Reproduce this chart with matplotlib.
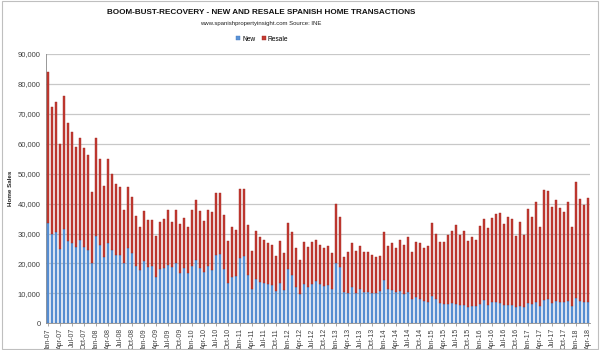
"""Boom-bust-recovery: new vs resale Spanish home transactions, stacked monthly bars."""
import matplotlib
matplotlib.use("Agg")
import matplotlib.pyplot as plt
import numpy as np
from matplotlib.patches import Rectangle
from matplotlib.ticker import FuncFormatter

# ---------- data (monthly Jan-07 .. Apr-18) ----------
MONTHS = ["Jan", "Feb", "Mar", "Apr", "May", "Jun",
          "Jul", "Aug", "Sep", "Oct", "Nov", "Dec"]
labels = [f"{m}-{y % 100:02d}" for y in range(2007, 2019) for m in MONTHS][:136]

total = [
    83900, 72400, 74100, 59900, 75900, 66800, 63900, 59000, 61800, 58700, 56200, 43800,
    61800, 54800, 45900, 54800, 49800, 46500, 45500, 37900, 45500, 42100, 35900, 32300,
    37400, 34500, 34500, 29300, 33900, 35000, 37800, 33900, 37800, 33200, 35100, 32100,
    37800, 41300, 37600, 34300, 37800, 37100, 43600, 43600, 36100, 27400, 32100, 31100,
    44900, 45000, 33000, 24100, 30800, 28800, 28000, 27000, 26100, 22400, 27400, 23400,
    33600, 30400, 25300, 21300, 27300, 25400, 27200, 27900, 26100, 25300, 26000, 23600,
    40000, 35600, 22000, 23900, 26800, 24100, 25800, 23900, 23900, 22800, 22200, 22600,
    30600, 25700, 26800, 25000, 27900, 26100, 28800, 23700, 27100, 26700, 25300, 25900,
    33400, 29900, 27300, 27300, 29400, 30700, 32800, 29400, 30800, 27400, 28800, 27700,
    32400, 34800, 31900, 35200, 36600, 36900, 33100, 35400, 34900, 29300, 33800, 29600,
    38300, 35600, 40400, 32200, 44700, 44100, 38800, 41300, 38600, 37200, 40700, 32200,
    47300, 41400, 39700, 42000,
]
new = [
    33600, 30000, 30600, 24700, 31500, 27500, 26900, 25600, 27800, 25600, 24500, 20300,
    29200, 26200, 22300, 26900, 24500, 22800, 22900, 20000, 25300, 23600, 19200, 17800,
    20700, 18900, 19300, 15600, 18000, 18600, 19500, 18700, 20300, 16700, 18400, 16700,
    19100, 21300, 18600, 17100, 19000, 17800, 22700, 23100, 18200, 13400, 15600, 15800,
    21800, 22400, 16100, 11400, 14800, 13900, 13300, 13100, 12800, 10900, 13400, 11000,
    18000, 16100, 12200, 9900, 13100, 12200, 13000, 14100, 13000, 12400, 12800, 11300,
    20100, 18700, 10400, 10000, 12000, 10100, 11400, 10600, 10600, 10000, 10000, 10900,
    14400, 11300, 11100, 10600, 10700, 9800, 10400, 8200, 8800, 8000, 7400, 7200,
    9100, 8000, 6700, 6300, 6300, 6700, 6300, 6000, 6100, 5600, 5800, 5800,
    6400, 7800, 6200, 7100, 7100, 6700, 6000, 6200, 6000, 5300, 5700, 5300,
    6700, 6300, 7200, 5700, 7800, 8000, 6700, 7400, 7100, 7000, 7400, 5800,
    8300, 7600, 7100, 7100,
]
resale = [t - n for t, n in zip(total, new)]

BLUE = "#5A93D6"
RED = "#C43A32"
GRID = "#C8C8C8"
TEXT = "#404040"

plt.rcParams["font.family"] = ["Liberation Sans", "DejaVu Sans"]

fig = plt.figure(figsize=(6, 3.5), dpi=100)
fig.patches.append(Rectangle((0.004, 0.004), 0.992, 0.992, transform=fig.transFigure,
                             fill=False, edgecolor="#BFBFBF", lw=0.8))

ax = fig.add_axes([0.0767, 0.0763, 0.907, 0.7694])
x = np.arange(len(labels))
ax.bar(x, new, width=0.62, color=BLUE, edgecolor="#4478C0", lw=0.3, label="New", zorder=3)
ax.bar(x, resale, width=0.62, bottom=new, color=RED, edgecolor="#A02A22", lw=0.3,
       label="Resale", zorder=3)

ax.set_xlim(-0.5, len(labels) - 0.5)
ax.set_ylim(0, 90000)
ax.set_yticks(np.arange(0, 90001, 10000))
ax.yaxis.set_major_formatter(FuncFormatter(lambda v, _: f"{int(v):,}"))
ax.yaxis.grid(True, color=GRID, lw=0.9, zorder=0)
ax.tick_params(axis="y", length=0, labelsize=5.5, labelcolor=TEXT, pad=4)

ax.set_xticks(x[::3])
ax.set_xticklabels(labels[::3], rotation=90, fontsize=5, color=TEXT)
ax.tick_params(axis="x", length=2, width=0.5, color="#888888", pad=1.5)

for side in ("top", "right"):
    ax.spines[side].set_visible(False)
ax.spines["left"].set_color("#888888")
ax.spines["left"].set_linewidth(0.6)
ax.spines["bottom"].set_color("#888888")
ax.spines["bottom"].set_linewidth(0.6)

ax.set_ylabel("Home Sales", fontsize=4.5, color="#222222", labelpad=3, fontweight="bold")

fig.text(0.435, 0.965, "BOOM-BUST-RECOVERY - NEW AND RESALE SPANISH HOME TRANSACTIONS",
         ha="center", va="center", fontsize=5.9, fontweight="bold", color="#111111")
fig.text(0.435, 0.934, "www.spanishpropertyinsight.com Source: INE",
         ha="center", va="center", fontsize=4.3, color="#222222")

leg = fig.legend(loc="center", bbox_to_anchor=(0.437, 0.888), ncol=2, frameon=False,
                 fontsize=4.8, handlelength=0.6, handleheight=0.6,
                 handletextpad=0.3, columnspacing=1.0)

fig.savefig("out.png", dpi=100)
